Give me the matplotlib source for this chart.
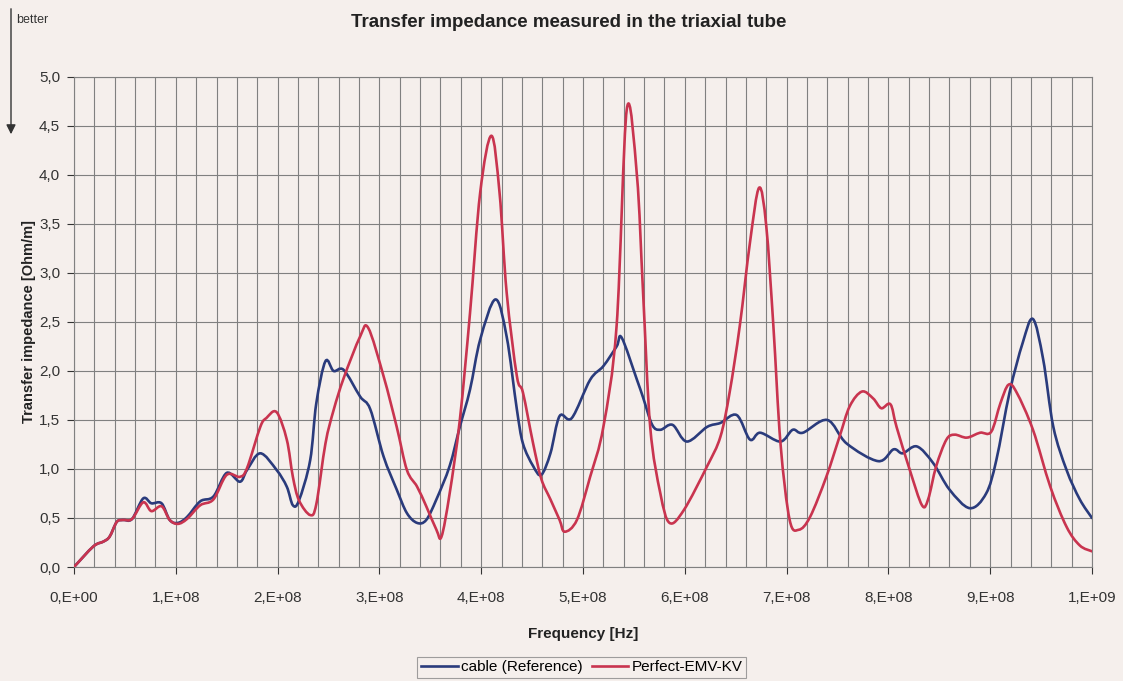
"""
Transfer impedance measured in the triaxial tube
"""

import numpy as np
import matplotlib.pyplot as plt
from matplotlib.path import Path
from matplotlib.patches import PathPatch
from matplotlib.lines import Line2D
from matplotlib.ticker import MultipleLocator, FuncFormatter

# frequency in units of 1e8 Hz, impedance in Ohm/m
freq_cable = [0.0, 0.19, 0.29, 0.35, 0.42, 0.48, 0.57, 0.68, 0.76, 0.86, 0.94, 1.02,
              1.11, 1.24, 1.37, 1.50, 1.63, 1.70, 1.83, 1.99, 2.09, 2.15, 2.21, 2.32,
              2.38, 2.47, 2.55, 2.65, 2.81, 2.91, 3.04, 3.17, 3.27, 3.37, 3.46, 3.56,
              3.69, 3.79, 3.89, 3.99, 4.14, 4.25, 4.35, 4.41, 4.51, 4.59, 4.68, 4.77,
              4.89, 5.07, 5.20, 5.33, 5.38, 5.53, 5.59, 5.68, 5.76, 5.88, 6.02, 6.22,
              6.35, 6.51, 6.64, 6.74, 6.94, 7.06, 7.16, 7.40, 7.59, 7.90, 8.05, 8.14,
              8.28, 8.44, 8.60, 8.80, 8.96, 9.06, 9.19, 9.32, 9.42, 9.52, 9.62, 9.75,
              9.88, 10.0]
z_cable = [0.0, 0.21, 0.26, 0.31, 0.46, 0.48, 0.49, 0.70, 0.65, 0.65, 0.48, 0.45,
           0.51, 0.67, 0.72, 0.96, 0.87, 0.99, 1.16, 0.99, 0.82, 0.63, 0.68, 1.09,
           1.67, 2.10, 2.00, 2.01, 1.74, 1.61, 1.13, 0.79, 0.55, 0.45, 0.48, 0.69,
           1.03, 1.43, 1.81, 2.32, 2.73, 2.35, 1.61, 1.26, 1.03, 0.94, 1.16, 1.54,
           1.52, 1.91, 2.05, 2.25, 2.34, 1.91, 1.73, 1.45, 1.40, 1.45, 1.28, 1.43,
           1.47, 1.55, 1.30, 1.37, 1.28, 1.40, 1.37, 1.50, 1.26, 1.08, 1.20, 1.16,
           1.23, 1.06, 0.79, 0.60, 0.75, 1.09, 1.78, 2.29, 2.53, 2.12, 1.43, 0.99,
           0.69, 0.50]

freq_emv = [0.0, 0.19, 0.29, 0.35, 0.42, 0.48, 0.57, 0.68, 0.76, 0.86, 0.94, 1.02,
            1.11, 1.24, 1.37, 1.50, 1.63, 1.70, 1.83, 1.89, 1.99, 2.09, 2.15, 2.21,
            2.32, 2.38, 2.47, 2.55, 2.65, 2.81, 2.89, 3.04, 3.17, 3.27, 3.37, 3.46,
            3.56, 3.61, 3.69, 3.79, 3.89, 3.99, 4.10, 4.18, 4.25, 4.35, 4.41, 4.51,
            4.59, 4.68, 4.77, 4.82, 4.94, 5.07, 5.20, 5.33, 5.43, 5.53, 5.59, 5.66,
            5.76, 5.85, 5.99, 6.22, 6.35, 6.44, 6.54, 6.64, 6.73, 6.80, 6.87, 6.94,
            7.03, 7.12, 7.23, 7.39, 7.52, 7.62, 7.74, 7.85, 7.93, 8.02, 8.08, 8.21,
            8.33, 8.39, 8.47, 8.57, 8.65, 8.77, 8.90, 9.01, 9.10, 9.18, 9.26, 9.42,
            9.59, 9.75, 9.88, 10.0]
z_emv = [0.0, 0.21, 0.26, 0.31, 0.46, 0.48, 0.49, 0.66, 0.57, 0.62, 0.48, 0.44,
         0.49, 0.63, 0.69, 0.94, 0.92, 1.01, 1.43, 1.52, 1.58, 1.30, 0.92, 0.68,
         0.53, 0.64, 1.26, 1.60, 1.93, 2.35, 2.44, 1.95, 1.43, 0.99, 0.82, 0.62,
         0.38, 0.31, 0.75, 1.50, 2.59, 3.82, 4.40, 3.82, 2.80, 1.95, 1.78, 1.26,
         0.90, 0.69, 0.48, 0.36, 0.48, 0.92, 1.43, 2.46, 4.67, 3.99, 2.80, 1.43,
         0.75, 0.45, 0.58, 1.03, 1.33, 1.78, 2.46, 3.31, 3.87, 3.48, 2.46, 1.26,
         0.48, 0.38, 0.51, 0.92, 1.33, 1.64, 1.79, 1.72, 1.62, 1.66, 1.43, 0.99,
         0.63, 0.69, 1.03, 1.30, 1.35, 1.32, 1.37, 1.38, 1.67, 1.86, 1.78, 1.40,
         0.82, 0.41, 0.22, 0.16]

x_ticklabels = ["0,E+00", "1,E+08", "2,E+08", "3,E+08", "4,E+08", "5,E+08",
                "6,E+08", "7,E+08", "8,E+08", "9,E+08", "1,E+09"]

bg = "#f5efec"
blue = "#2a3b7c"
red = "#c9344f"
grid_col = "#808080"


def smooth_path(x, y):
    # Excel-style smoothed line: cubic Bezier segments through the data points
    pts = np.column_stack([x, y])
    verts = [pts[0]]
    codes = [Path.MOVETO]
    n = len(pts)
    for i in range(n - 1):
        p0 = pts[max(i - 1, 0)]
        p1 = pts[i]
        p2 = pts[i + 1]
        p3 = pts[min(i + 2, n - 1)]
        verts += [p1 + (p2 - p0) / 6, p2 - (p3 - p1) / 6, p2]
        codes += [Path.CURVE4] * 3
    return Path(verts, codes)


plt.rcParams["font.family"] = ["Liberation Sans", "DejaVu Sans"]

fig = plt.figure(figsize=(11.23, 6.81), dpi=100, facecolor=bg)
ax = fig.add_axes([0.0659, 0.1674, 0.9065, 0.7196])
ax.set_facecolor(bg)

for f, z, col in [(freq_cable, z_cable, blue), (freq_emv, z_emv, red)]:
    ax.add_patch(PathPatch(smooth_path(np.array(f) * 1e8, np.array(z)),
                           facecolor="none", edgecolor=col, linewidth=1.9,
                           joinstyle="round", capstyle="round", zorder=3))

ax.set_xlim(0, 1e9)
ax.set_ylim(0, 5)
ax.xaxis.set_minor_locator(MultipleLocator(2e7))
ax.yaxis.set_major_locator(MultipleLocator(0.5))
ax.set_xticks(np.arange(0, 11) * 1e8)
ax.set_xticklabels(x_ticklabels)
ax.yaxis.set_major_formatter(FuncFormatter(lambda v, p: f"{v:.1f}".replace(".", ",")))

ax.grid(True, which="both", color=grid_col, linewidth=0.8)
ax.set_axisbelow(True)
ax.tick_params(axis="x", which="major", labelsize=11, colors="#333333",
               length=5, width=0.8, direction="out", pad=12)
ax.tick_params(axis="y", which="major", labelsize=11, colors="#333333",
               length=5, width=0.8, direction="out", pad=5)
ax.tick_params(axis="x", which="minor", length=0)
for sp in ax.spines.values():
    sp.set_color(grid_col)
    sp.set_linewidth(0.8)

ax.set_xlabel("Frequency [Hz]", fontsize=11, fontweight="bold", color="#222222",
              labelpad=16)
ax.set_ylabel("Transfer impedance [Ohm/m]", fontsize=10.5, fontweight="bold",
              color="#222222", labelpad=2)
fig.text(0.506, 0.967, "Transfer impedance measured in the triaxial tube",
         ha="center", va="center", fontsize=13.5, fontweight="bold", color="#222222")

# "better" arrow in the top-left corner
ax.annotate("", xy=(11, 544), xycoords="figure pixels", xytext=(11, 675),
            textcoords="figure pixels",
            arrowprops=dict(arrowstyle="-|>", color="#333333", lw=1.0,
                            mutation_scale=14))
fig.text(16 / 1123, 1 - 20 / 681, "better", fontsize=9, color="#333333",
         ha="left", va="center")

handles = [Line2D([], [], color=blue, linewidth=1.9),
           Line2D([], [], color=red, linewidth=1.9)]
leg = fig.legend(handles, ["cable (Reference)", "Perfect-EMV-KV"], loc="center",
                 bbox_to_anchor=(0.518, 0.020), ncol=2, frameon=True,
                 fancybox=False, fontsize=11, handlelength=2.4,
                 handletextpad=0.2, columnspacing=0.6, borderpad=0.25)
leg.get_frame().set_edgecolor("#888888")
leg.get_frame().set_facecolor(bg)
leg.get_frame().set_linewidth(0.8)

plt.savefig("out.png", dpi=100, facecolor=bg)
